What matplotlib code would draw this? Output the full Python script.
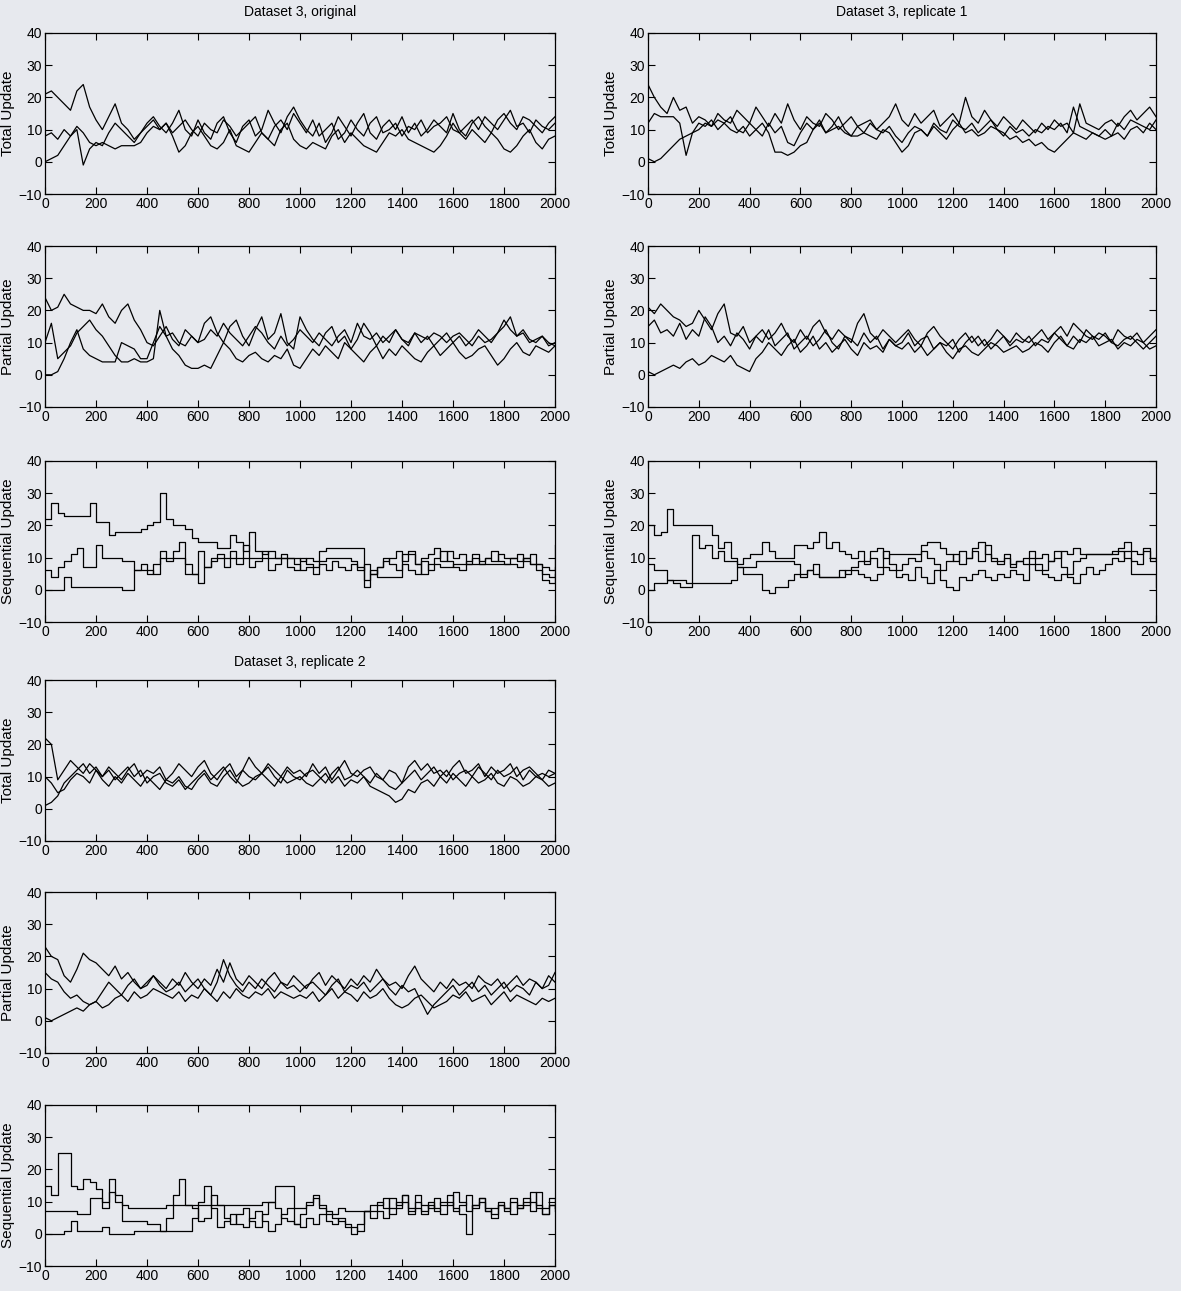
# trace plots for dataset 3 (original + 2 replicates)

import numpy as np
import matplotlib
matplotlib.use("Agg")
import matplotlib.pyplot as plt

# iteration grid (values every 25 iterations)
iters = np.arange(0, 2001, 25)

# ---- dataset 3, original ----
orig_total_a = [21, 22, 20, 18, 16, 22, 24, 17, 13, 10, 14, 18, 12, 10, 7, 9, 12, 14, 11, 9,
                12, 16, 10, 8, 13, 9, 7, 12, 14, 9, 6, 11, 13, 8, 10, 16, 12, 9, 14, 17,
                13, 10, 8, 12, 6, 9, 14, 11, 8, 12, 15, 9, 7, 11, 13, 10, 14, 9, 12, 8,
                10, 13, 11, 9, 15, 10, 8, 12, 14, 11, 9, 13, 15, 12, 10, 14, 13, 11, 9, 12, 14]
orig_total_b = [8, 9, 7, 10, 8, 11, 9, 6, 5, 6, 5, 4, 5, 5, 5, 6, 9, 11, 10, 12,
                8, 3, 5, 9, 11, 8, 5, 4, 6, 10, 5, 4, 3, 6, 9, 7, 5, 10, 12, 7,
                5, 4, 6, 5, 4, 8, 10, 6, 9, 7, 5, 4, 3, 6, 9, 8, 10, 7, 6, 5,
                4, 3, 5, 8, 12, 9, 7, 10, 8, 6, 9, 7, 4, 3, 5, 8, 10, 6, 4, 7, 8]
orig_total_c = [0, 1, 2, 5, 8, 10, -1, 4, 6, 5, 9, 12, 10, 8, 6, 9, 11, 13, 10, 12,
                9, 11, 13, 10, 8, 12, 10, 9, 13, 11, 8, 10, 12, 14, 9, 7, 11, 13, 10, 15,
                12, 9, 13, 8, 10, 12, 7, 9, 13, 10, 8, 12, 14, 9, 10, 12, 8, 11, 10, 13,
                9, 11, 12, 14, 10, 9, 11, 13, 10, 14, 12, 10, 13, 16, 11, 12, 9, 13, 11, 10, 12]

orig_partial_a = [24, 20, 21, 25, 22, 21, 20, 20, 19, 22, 18, 16, 20, 22, 17, 14, 10, 9, 12, 15,
                  11, 9, 14, 12, 10, 16, 18, 13, 10, 15, 17, 12, 9, 14, 18, 11, 13, 19, 10, 8,
                  18, 14, 11, 9, 13, 15, 10, 12, 8, 11, 16, 13, 9, 12, 10, 14, 11, 9, 13, 10,
                  12, 9, 11, 13, 10, 12, 9, 11, 14, 12, 10, 13, 15, 18, 12, 14, 11, 10, 12, 9, 10]
orig_partial_b = [10, 16, 5, 7, 9, 13, 15, 17, 14, 12, 9, 6, 4, 4, 5, 4, 4, 5, 20, 12,
                  8, 6, 3, 2, 2, 3, 2, 6, 10, 8, 5, 4, 6, 7, 5, 4, 6, 5, 8, 3,
                  2, 5, 8, 6, 9, 7, 5, 10, 8, 6, 4, 7, 9, 5, 8, 6, 9, 7, 5, 4,
                  7, 9, 6, 8, 10, 7, 5, 6, 8, 9, 6, 3, 5, 8, 10, 7, 6, 9, 8, 7, 9]
orig_partial_c = [0, 0, 1, 5, 10, 14, 8, 6, 5, 4, 4, 4, 10, 9, 8, 5, 5, 10, 15, 12,
                  13, 10, 9, 12, 10, 11, 14, 12, 16, 13, 11, 9, 12, 15, 13, 10, 8, 12, 9, 11,
                  14, 12, 10, 13, 11, 9, 12, 14, 10, 16, 12, 11, 13, 10, 12, 14, 11, 10, 13, 12,
                  11, 13, 12, 10, 12, 13, 11, 9, 12, 10, 11, 13, 17, 14, 12, 13, 10, 11, 12, 10, 9]

orig_seq_a = [22, 27, 24, 23, 23, 23, 23, 27, 21, 21, 17, 18, 18, 18, 18, 19, 20, 21, 30, 22,
              20, 20, 19, 16, 15, 15, 15, 13, 13, 17, 15, 12, 18, 12, 11, 12, 10, 10, 10, 10,
              9, 10, 9, 12, 13, 13, 13, 13, 13, 13, 1, 5, 7, 9, 10, 12, 9, 11, 8, 10,
              11, 13, 9, 12, 10, 11, 8, 10, 9, 10, 9, 11, 10, 10, 9, 10, 11, 8, 7, 6, 14]
orig_seq_b = [6, 4, 7, 9, 11, 13, 7, 7, 14, 10, 10, 10, 9, 9, 6, 8, 6, 5, 12, 9,
              12, 15, 8, 5, 12, 7, 9, 11, 7, 12, 8, 14, 7, 9, 12, 6, 8, 11, 7, 6,
              10, 8, 7, 9, 10, 10, 10, 10, 9, 6, 8, 5, 7, 10, 8, 6, 11, 12, 8, 5,
              8, 10, 12, 9, 7, 6, 9, 11, 8, 10, 12, 9, 8, 10, 11, 9, 8, 8, 5, 4, 7]
orig_seq_c = [0, 0, 0, 4, 1, 1, 1, 1, 1, 1, 1, 1, 0, 0, 6, 6, 5, 8, 10, 10,
              10, 10, 5, 5, 2, 7, 10, 10, 10, 10, 10, 10, 10, 10, 10, 10, 10, 10, 10, 8,
              6, 7, 5, 8, 6, 9, 7, 6, 8, 7, 3, 6, 4, 4, 4, 4, 8, 6, 5, 9,
              6, 8, 7, 7, 8, 8, 8, 8, 8, 8, 8, 8, 8, 8, 7, 10, 8, 6, 3, 2, 5]

# ---- dataset 3, replicate 1 ----
rep1_total_a = [24, 20, 17, 15, 20, 16, 17, 12, 14, 13, 11, 15, 13, 12, 16, 14, 12, 17, 14, 11,
                15, 12, 18, 13, 10, 14, 12, 11, 15, 13, 10, 12, 14, 11, 12, 13, 10, 12, 14, 18,
                13, 11, 15, 12, 14, 16, 11, 13, 15, 12, 20, 14, 12, 16, 13, 11, 14, 12, 10, 13,
                11, 9, 12, 10, 13, 11, 12, 9, 18, 12, 11, 10, 12, 13, 11, 14, 16, 13, 15, 17, 14]
rep1_total_b = [12, 15, 14, 14, 14, 12, 2, 9, 12, 11, 13, 10, 12, 14, 10, 9, 12, 10, 8, 12,
                9, 11, 6, 5, 9, 12, 10, 13, 9, 11, 14, 10, 8, 11, 9, 12, 10, 9, 11, 8,
                6, 9, 11, 10, 8, 12, 10, 9, 13, 11, 10, 12, 9, 11, 13, 10, 8, 11, 9, 10,
                8, 10, 9, 11, 10, 12, 9, 17, 11, 10, 9, 8, 10, 8, 12, 10, 13, 12, 11, 10, 13]
rep1_total_c = [1, 0, 1, 3, 5, 7, 8, 9, 10, 12, 11, 13, 12, 10, 9, 11, 8, 10, 12, 9,
                3, 3, 2, 3, 5, 6, 10, 12, 9, 10, 11, 9, 8, 8, 9, 8, 7, 10, 9, 6,
                3, 5, 9, 10, 8, 11, 9, 7, 10, 12, 9, 10, 8, 9, 11, 10, 9, 7, 8, 6,
                7, 5, 6, 4, 3, 5, 7, 9, 8, 7, 9, 8, 7, 8, 9, 7, 10, 11, 9, 12, 10]

rep1_partial_a = [21, 19, 22, 20, 18, 17, 15, 16, 20, 17, 14, 19, 22, 13, 12, 15, 10, 12, 14, 11,
                  13, 16, 12, 10, 14, 11, 15, 17, 13, 11, 14, 12, 10, 16, 19, 13, 11, 14, 12, 10,
                  12, 14, 11, 9, 13, 15, 12, 10, 8, 11, 13, 10, 12, 9, 11, 14, 12, 10, 13, 11,
                  10, 12, 14, 11, 13, 15, 12, 16, 14, 12, 11, 13, 12, 10, 14, 12, 11, 13, 10, 12, 14]
rep1_partial_b = [15, 17, 13, 14, 12, 16, 11, 14, 12, 18, 15, 10, 12, 9, 13, 11, 8, 12, 10, 14,
                  9, 11, 13, 8, 10, 12, 9, 11, 14, 10, 8, 12, 11, 9, 13, 10, 12, 8, 11, 9,
                  10, 13, 9, 11, 12, 8, 10, 9, 11, 7, 10, 12, 9, 11, 8, 10, 12, 9, 11, 10,
                  12, 9, 11, 10, 13, 11, 9, 12, 10, 14, 12, 11, 13, 10, 9, 11, 12, 10, 8, 10, 12]
rep1_partial_c = [1, 0, 1, 2, 3, 2, 4, 5, 3, 4, 6, 5, 4, 6, 3, 2, 1, 5, 7, 10,
                  8, 6, 9, 11, 7, 9, 12, 8, 10, 7, 9, 11, 8, 6, 10, 8, 9, 7, 11, 9,
                  8, 10, 7, 9, 6, 8, 10, 7, 5, 8, 9, 7, 6, 8, 10, 9, 7, 8, 9, 7,
                  8, 10, 9, 7, 10, 12, 9, 8, 11, 10, 12, 9, 10, 11, 8, 10, 9, 11, 10, 8, 9]

rep1_seq_a = [20, 17, 18, 25, 20, 20, 20, 20, 20, 20, 17, 13, 15, 10, 8, 10, 11, 11, 15, 12,
              10, 10, 10, 14, 14, 13, 15, 18, 13, 15, 12, 11, 10, 12, 9, 12, 13, 10, 11, 11,
              11, 11, 11, 14, 15, 15, 13, 11, 9, 12, 10, 13, 15, 11, 10, 9, 11, 8, 9, 10,
              12, 10, 11, 9, 10, 12, 11, 13, 11, 11, 11, 11, 11, 12, 13, 15, 12, 11, 13, 10, 9]
rep1_seq_b = [8, 6, 6, 3, 3, 3, 2, 2, 2, 2, 2, 2, 2, 3, 7, 5, 5, 5, 0, -1,
              1, 1, 3, 5, 5, 6, 8, 4, 4, 4, 4, 6, 6, 5, 4, 3, 5, 7, 6, 4,
              5, 3, 7, 4, 2, 6, 3, 1, 0, 4, 3, 5, 6, 4, 3, 5, 4, 6, 5, 3,
              8, 6, 5, 4, 3, 5, 4, 2, 5, 7, 5, 6, 8, 10, 9, 12, 5, 5, 5, 5, 1]
rep1_seq_c = [0, 2, 2, 3, 2, 1, 1, 17, 13, 14, 10, 12, 9, 9, 7, 7, 7, 9, 9, 9,
              9, 9, 9, 8, 4, 6, 5, 4, 4, 4, 6, 5, 7, 9, 8, 10, 7, 12, 8, 6,
              8, 10, 9, 12, 10, 8, 6, 9, 11, 8, 10, 12, 9, 14, 9, 8, 10, 7, 9, 8,
              10, 8, 6, 9, 12, 7, 5, 9, 10, 11, 11, 11, 11, 11, 12, 10, 9, 8, 12, 9, 10]

# ---- dataset 3, replicate 2 ----
rep2_total_a = [22, 20, 9, 12, 15, 13, 11, 14, 12, 10, 13, 11, 9, 12, 14, 10, 12, 11, 13, 9,
                11, 14, 12, 10, 13, 15, 11, 9, 12, 14, 10, 12, 16, 13, 11, 14, 12, 10, 13, 11,
                12, 10, 14, 11, 13, 9, 12, 15, 11, 10, 12, 13, 10, 9, 12, 11, 8, 13, 15, 12,
                14, 11, 12, 10, 13, 15, 11, 12, 14, 10, 13, 11, 12, 14, 10, 12, 13, 11, 9, 12, 11]
rep2_total_b = [10, 8, 5, 6, 9, 11, 10, 8, 12, 9, 7, 10, 8, 11, 9, 7, 10, 8, 6, 9,
                8, 10, 7, 6, 9, 11, 8, 7, 10, 12, 9, 7, 8, 10, 11, 9, 7, 10, 8, 9,
                10, 8, 7, 9, 11, 8, 10, 7, 9, 8, 10, 7, 6, 5, 4, 2, 3, 6, 5, 8,
                9, 7, 10, 8, 11, 9, 7, 10, 8, 9, 11, 8, 7, 10, 9, 7, 8, 10, 9, 7, 8]
rep2_total_c = [1, 2, 4, 8, 10, 12, 14, 11, 13, 10, 12, 9, 11, 13, 10, 12, 8, 10, 11, 8,
                7, 9, 6, 8, 10, 12, 9, 11, 13, 10, 8, 12, 10, 9, 11, 13, 10, 8, 12, 10,
                9, 11, 12, 10, 8, 11, 13, 9, 10, 12, 10, 8, 11, 9, 7, 6, 8, 10, 12, 9,
                11, 13, 10, 12, 9, 11, 12, 10, 13, 11, 9, 12, 10, 11, 13, 9, 12, 10, 11, 10, 11]

rep2_partial_a = [23, 20, 19, 14, 12, 16, 21, 19, 18, 16, 14, 17, 13, 15, 12, 10, 11, 14, 12, 10,
                  13, 11, 15, 12, 10, 13, 11, 16, 12, 18, 13, 11, 14, 12, 10, 13, 15, 12, 11, 14,
                  12, 10, 13, 15, 11, 14, 12, 10, 13, 11, 14, 12, 16, 13, 11, 12, 10, 14, 17, 13,
                  11, 9, 12, 10, 13, 11, 12, 10, 14, 12, 11, 13, 10, 12, 14, 11, 13, 12, 10, 14, 12]
rep2_partial_b = [15, 13, 12, 9, 7, 8, 6, 5, 6, 9, 12, 10, 8, 11, 13, 10, 12, 14, 11, 9,
                  10, 12, 9, 11, 13, 10, 8, 12, 19, 14, 11, 9, 12, 10, 13, 11, 9, 12, 10, 11,
                  9, 11, 12, 10, 8, 11, 13, 9, 11, 10, 12, 9, 11, 13, 10, 8, 11, 9, 10, 6,
                  2, 5, 7, 9, 11, 8, 10, 12, 9, 11, 8, 10, 12, 9, 11, 10, 8, 12, 10, 11, 15]
rep2_partial_c = [1, 0, 1, 2, 3, 4, 3, 5, 6, 4, 5, 7, 8, 6, 9, 7, 8, 10, 9, 8,
                  7, 9, 6, 8, 7, 10, 8, 6, 9, 7, 10, 8, 7, 9, 8, 10, 7, 9, 8, 7,
                  8, 7, 9, 6, 8, 10, 7, 9, 8, 6, 9, 7, 8, 10, 7, 5, 4, 5, 7, 8,
                  6, 4, 5, 6, 8, 7, 9, 6, 7, 8, 5, 7, 9, 6, 8, 7, 6, 5, 7, 6, 7]

rep2_seq_a = [15, 12, 25, 25, 15, 14, 17, 16, 14, 10, 17, 12, 9, 8, 8, 8, 8, 8, 8, 9,
              9, 9, 9, 9, 9, 9, 9, 9, 9, 9, 9, 9, 9, 9, 10, 10, 15, 15, 15, 8,
              8, 10, 12, 9, 7, 6, 8, 7, 7, 7, 7, 9, 10, 8, 11, 9, 12, 8, 10, 9,
              8, 11, 9, 10, 7, 9, 12, 8, 10, 7, 8, 9, 8, 11, 8, 10, 13, 9, 8, 11, 7]
rep2_seq_b = [7, 7, 7, 7, 7, 6, 6, 11, 11, 8, 13, 10, 4, 4, 4, 4, 3, 3, 1, 5,
              12, 17, 9, 8, 4, 5, 12, 9, 5, 3, 6, 8, 4, 2, 6, 10, 8, 5, 4, 3,
              6, 9, 11, 8, 6, 5, 4, 3, 2, 1, 7, 5, 9, 11, 6, 8, 10, 7, 12, 6,
              9, 7, 10, 12, 8, 6, 0, 9, 11, 7, 5, 10, 8, 6, 9, 11, 7, 13, 6, 9, 8]
rep2_seq_c = [0, 0, 0, 1, 4, 1, 1, 1, 1, 2, 0, 0, 0, 0, 1, 1, 1, 1, 1, 1,
              1, 1, 1, 5, 10, 15, 8, 2, 4, 6, 3, 2, 5, 7, 4, 1, 3, 6, 8, 3,
              2, 5, 3, 6, 4, 3, 5, 2, 0, 3, 7, 7, 7, 5, 8, 10, 12, 6, 8, 7,
              10, 8, 6, 9, 13, 10, 7, 9, 11, 8, 6, 9, 7, 10, 8, 9, 10, 8, 6, 9, 8]

row_labels = ['Total Update', 'Partial Update', 'Sequential Update']
yticks = [-10, 0, 10, 20, 30, 40]
xticks = list(range(0, 2001, 200))

# look of the page
bg = '#e7e9ee'
plt.rcParams['font.family'] = ['Liberation Sans', 'DejaVu Sans']
plt.rcParams['axes.linewidth'] = 0.9

fig = plt.figure(figsize=(11.81, 12.91), dpi=100, facecolor=bg)
W, H = 1181, 1291


def add_panel(left, top, width, height, traces, ylabel, steps):
    # pixel box -> figure fraction
    ax = fig.add_axes([left / W, 1 - (top + height) / H, width / W, height / H])
    ax.set_facecolor(bg)
    style = 'steps-post' if steps else 'default'
    for vals in traces:
        assert len(vals) == len(iters), (ylabel, len(vals))
        ax.plot(iters, vals, color='black', linewidth=0.9, drawstyle=style)
    ax.set_xlim(0, 2000)
    ax.set_ylim(-10, 40)
    ax.set_xticks(xticks)
    ax.set_yticks(yticks)
    ax.tick_params(direction='in', top=True, right=True, length=5, width=0.8,
                   labelsize=10, pad=2, colors='black')
    ax.set_ylabel(ylabel, fontsize=11)
    # label sits ~30 px left of the axis
    ax.yaxis.set_label_coords(-30 / width, 0.5)
    return ax


# panel boxes in pixels
left_x, left_w = 45, 510
right_x, right_w = 648, 508
h = 161
tops_orig = [33, 246, 461]
tops_rep2 = [680, 892, 1105]

orig = [[orig_total_a, orig_total_b, orig_total_c],
        [orig_partial_a, orig_partial_b, orig_partial_c],
        [orig_seq_a, orig_seq_b, orig_seq_c]]
rep1 = [[rep1_total_a, rep1_total_b, rep1_total_c],
        [rep1_partial_a, rep1_partial_b, rep1_partial_c],
        [rep1_seq_a, rep1_seq_b, rep1_seq_c]]
rep2 = [[rep2_total_a, rep2_total_b, rep2_total_c],
        [rep2_partial_a, rep2_partial_b, rep2_partial_c],
        [rep2_seq_a, rep2_seq_b, rep2_seq_c]]

for i in range(3):
    seq = (i == 2)
    add_panel(left_x, tops_orig[i], left_w, h, orig[i], row_labels[i], seq)
    add_panel(right_x, tops_orig[i], right_w, h, rep1[i], row_labels[i], seq)
    add_panel(left_x, tops_rep2[i], left_w, h, rep2[i], row_labels[i], seq)

# titles above each block
fig.text((left_x + left_w / 2) / W, 1 - 12 / H, 'Dataset 3, original',
         ha='center', va='center', fontsize=10)
fig.text((right_x + right_w / 2) / W, 1 - 12 / H, 'Dataset 3, replicate 1',
         ha='center', va='center', fontsize=10)
fig.text((left_x + left_w / 2) / W, 1 - 662 / H, 'Dataset 3, replicate 2',
         ha='center', va='center', fontsize=10)

fig.savefig('out.png', dpi=100, facecolor=bg)
